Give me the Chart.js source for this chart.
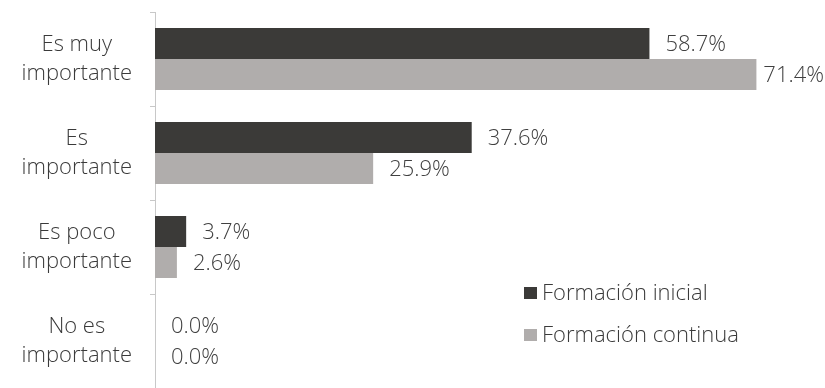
<!DOCTYPE html>
<html>
<head>
<meta charset="utf-8">
<script src="https://cdn.jsdelivr.net/npm/chart.js@4"></script>
<style>
  html, body { margin: 0; padding: 0; background: #fff; }
  #wrap { width: 825px; height: 388px; position: relative; }
</style>
</head>
<body>
<div id="wrap"><canvas id="chart"></canvas></div>
<script>
// Importancia de la formación
const categorias = [
  ['Es muy', 'importante'],
  ['Es', 'importante'],
  ['Es poco', 'importante'],
  ['No es', 'importante']
];
const formacionInicial = [58.7, 37.6, 3.7, 0.0];
const formacionContinua = [71.4, 25.9, 2.6, 0.0];
const series = ['Formación inicial', 'Formación continua'];

const FONT = "'Open Sans', 'DejaVu Sans', sans-serif";
const TEXT = '#3a3a3a';
const SIZE = 22;

// Etiquetas de valor a la derecha de cada barra
const valueLabels = {
  id: 'valueLabels',
  afterDatasetsDraw(chart) {
    const ctx = chart.ctx;
    ctx.save();
    ctx.font = `300 ${SIZE}px ${FONT}`;
    ctx.fillStyle = '#404040';
    ctx.textBaseline = 'middle';
    ctx.textAlign = 'left';
    chart.data.datasets.forEach((ds, i) => {
      chart.getDatasetMeta(i).data.forEach((bar, j) => {
        const txt = ds.data[j].toFixed(1) + '%';
        const w = ctx.measureText(txt).width;
        const x = Math.min(bar.x + 16, chart.width - w - 1);
        ctx.fillText(txt, x, bar.y + 1);
      });
    });
    ctx.restore();
  }
};

// Leyenda dentro del área del gráfico, abajo a la derecha
const innerLegend = {
  id: 'innerLegend',
  afterDraw(chart) {
    const ctx = chart.ctx;
    ctx.save();
    ctx.font = `300 ${SIZE}px ${FONT}`;
    ctx.textBaseline = 'middle';
    chart.data.datasets.forEach((ds, i) => {
      const y = 293 + i * 42;
      ctx.fillStyle = ds.backgroundColor;
      ctx.fillRect(524, y - 6, 13, 12);
      ctx.fillStyle = TEXT;
      ctx.fillText(ds.label, 542, y + 1);
    });
    ctx.restore();
  }
};

new Chart(document.getElementById('chart'), {
  type: 'bar',
  data: {
    labels: categorias,
    datasets: [
      {
        label: series[0],
        data: formacionInicial,
        backgroundColor: '#3b3a38',
        categoryPercentage: 0.66,
        barPercentage: 1.0
      },
      {
        label: series[1],
        data: formacionContinua,
        backgroundColor: '#b0adac',
        categoryPercentage: 0.66,
        barPercentage: 1.0
      }
    ]
  },
  options: {
    indexAxis: 'y',
    responsive: true,
    maintainAspectRatio: false,
    animation: false,
    layout: { padding: { top: 12, right: 13, bottom: 0, left: 0 } },
    plugins: {
      legend: { display: false },
      tooltip: { enabled: false }
    },
    scales: {
      x: {
        display: false,
        min: 0,
        max: 78
      },
      y: {
        offset: true,
        border: { display: true, color: '#c8c8c8', width: 1 },
        grid: {
          offset: true,
          drawOnChartArea: false,
          drawTicks: true,
          tickLength: 5,
          color: '#c8c8c8'
        },
        ticks: {
          crossAlign: 'center',
          padding: 18,
          color: TEXT,
          font: { family: FONT, size: SIZE, weight: '300', lineHeight: 1.32 }
        },
        afterFit(scale) {
          scale.width = 155;
          // las etiquetas de varias líneas no deben encoger el área
          scale.paddingTop = 0;
          scale.paddingBottom = 0;
        }
      }
    }
  },
  plugins: [valueLabels, innerLegend]
});
</script>
</body>
</html>
